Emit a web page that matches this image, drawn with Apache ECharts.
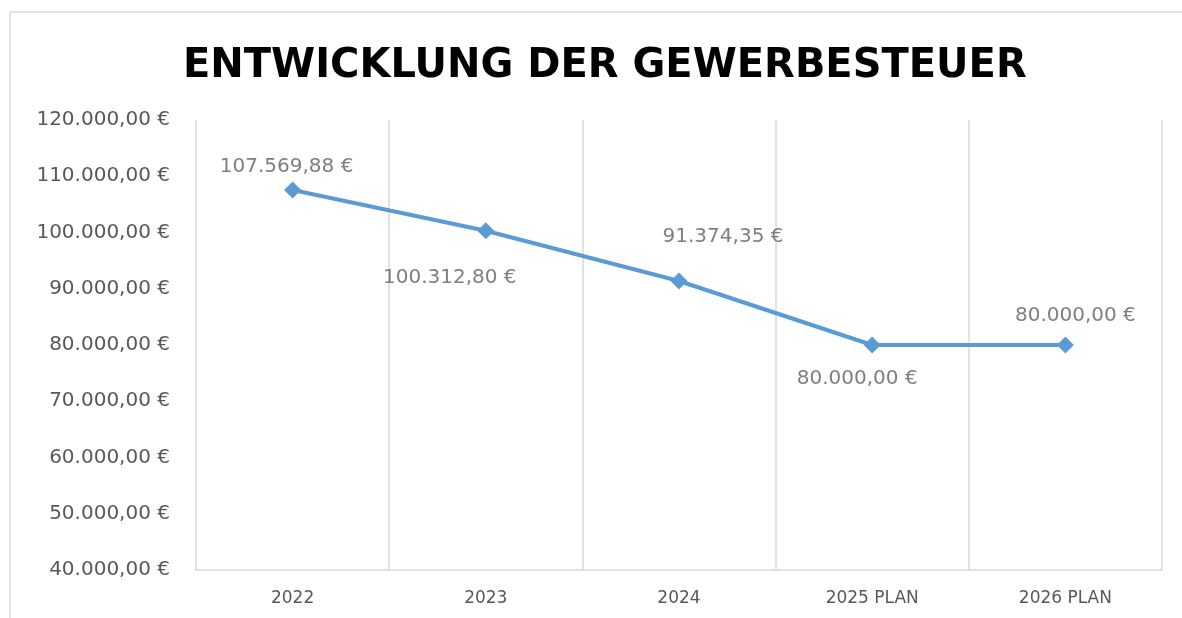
<!DOCTYPE html>
<html>
<head>
  <meta charset="utf-8">
  <title>Entwicklung der Gewerbesteuer</title>
  <style>
    body {
      margin: 0;
      background-color: #ffffff;
    }
    #chart {
      width: 1182px;
      height: 618px;
    }
  </style>
</head>
<body>
  <div id="chart"></div>

  <script src="https://cdn.jsdelivr.net/npm/echarts@6/dist/echarts.min.js"></script>
  <script>
    // data
    var years = ['2022', '2023', '2024', '2025 PLAN', '2026 PLAN'];
    var tax = [107569.88, 100312.80, 91374.35, 80000.00, 80000.00];
    var yMin = 40000;
    var yMax = 120000;
    var yStep = 10000;

    // label placement around each marker (Excel moved them by hand)
    var labelShift = [[-6, -23], [-36, 47], [44, -44], [-15, 34], [10, -29]];

    // German number format: 107.569,88 €
    function euro(v) {
      var parts = v.toFixed(2).split('.');
      var whole = parts[0].replace(/\B(?=(\d{3})+(?!\d))/g, '.');
      return whole + ',' + parts[1] + ' €';
    }

    var points = tax.map(function (v, i) {
      return {
        value: v,
        label: { offset: labelShift[i] }
      };
    });

    var option = {
      animation: false,
      backgroundColor: '#ffffff',
      graphic: [{
        type: 'rect',
        shape: { x: 10, y: 12, width: 1200, height: 640 },
        style: { fill: 'none', stroke: '#d9d9d9', lineWidth: 1.5 },
        silent: true
      }],
      title: {
        text: 'ENTWICKLUNG DER GEWERBESTEUER',
        left: 178,
        top: 42,
        textStyle: {
          fontFamily: 'DejaVu Sans',
          fontWeight: 'bold',
          fontSize: 40,
          color: '#000000'
        }
      },
      grid: {
        left: 196,
        right: 20,
        top: 120,
        bottom: 48
      },
      xAxis: {
        type: 'category',
        data: years,
        boundaryGap: true,
        axisLine: { lineStyle: { color: '#d9d9d9', width: 1.5 } },
        axisTick: { show: false },
        splitLine: { show: true, lineStyle: { color: '#d9d9d9', width: 1.5 } },
        axisLabel: {
          margin: 20,
          fontFamily: 'DejaVu Sans',
          fontSize: 17,
          color: '#595959'
        }
      },
      yAxis: {
        type: 'value',
        min: yMin,
        max: yMax,
        interval: yStep,
        axisLine: { show: false },
        axisTick: { show: false },
        splitLine: { show: false },
        axisLabel: {
          margin: 26,
          fontFamily: 'DejaVu Sans',
          fontSize: 20,
          color: '#595959',
          formatter: euro
        }
      },
      series: [{
        type: 'line',
        data: points,
        symbol: 'diamond',
        symbolSize: 17,
        itemStyle: { color: '#5b9bd5' },
        lineStyle: { color: '#5b9bd5', width: 4 },
        label: {
          show: true,
          position: 'inside',
          fontFamily: 'DejaVu Sans',
          fontSize: 20,
          color: '#7f7f7f',
          formatter: function (p) { return euro(p.value); }
        }
      }]
    };

    var chart = echarts.init(document.getElementById('chart'));
    chart.setOption(option);
  </script>
</body>
</html>
